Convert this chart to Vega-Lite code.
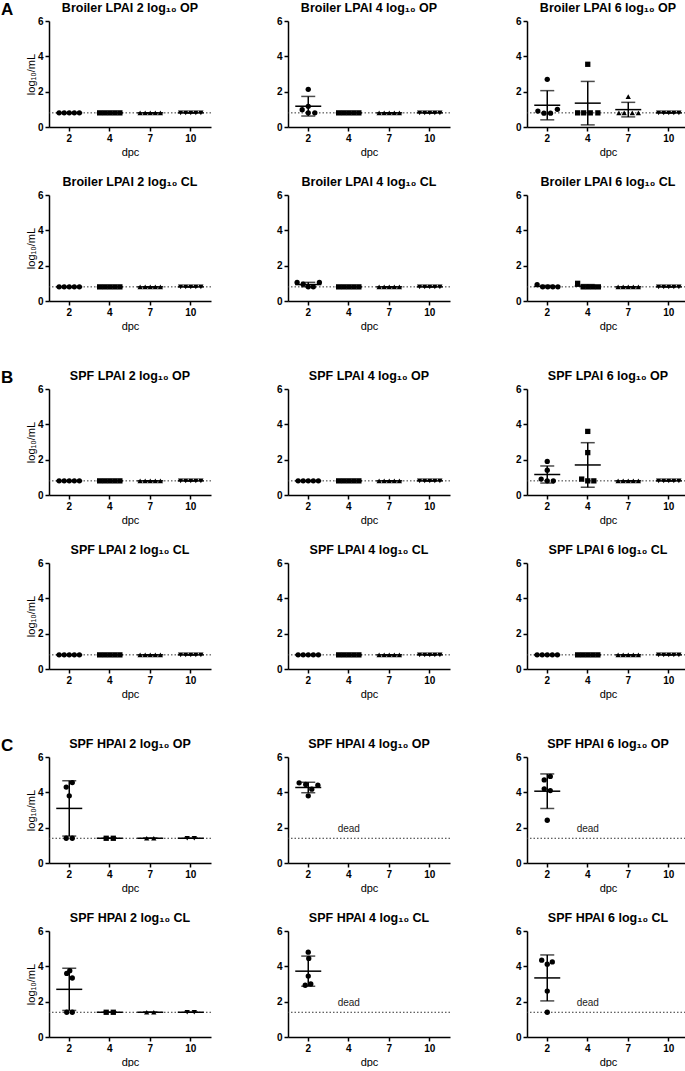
{
"$schema": "https://vega.github.io/schema/vega-lite/v6.json",
"padding": {"left": 0, "top": 0, "right": 0, "bottom": 0},
"config": {
 "view": {"stroke": null},
 "font": "Liberation Sans",
 "axis": {"grid": false, "domainColor": "black", "domainWidth": 1.5, "tickColor": "black", "tickWidth": 1.5, "tickSize": 4, "labelFont": "Liberation Sans", "labelFontWeight": "bold", "labelFontSize": 10, "labelColor": "black", "labelPadding": 2, "labelOverlap": false, "titleFont": "Liberation Sans", "titleFontWeight": "normal", "titleFontSize": 11, "titleColor": "#000000", "titlePadding": 3},
 "axisY": {"titlePadding": 1, "labelFlush": false},
 "header": {"labelFont": "Liberation Sans", "labelFontSize": 12.5, "labelFontWeight": "bold", "labelColor": "black", "labelPadding": 2},
 "title": {"font": "Liberation Sans", "fontSize": 17, "fontWeight": "bold", "color": "black"}
},
"datasets": {
"panels": [
 {"p":1,"g":"A","c":1,"t":"Broiler LPAI 2 log₁₀ OP","lod":0.8,"dead":false},
 {"p":2,"g":"A","c":2,"t":"Broiler LPAI 4 log₁₀ OP","lod":0.8,"dead":false},
 {"p":3,"g":"A","c":3,"t":"Broiler LPAI 6 log₁₀ OP","lod":0.8,"dead":false},
 {"p":4,"g":"A","c":1,"t":"Broiler LPAI 2 log₁₀ CL","lod":0.8,"dead":false},
 {"p":5,"g":"A","c":2,"t":"Broiler LPAI 4 log₁₀ CL","lod":0.8,"dead":false},
 {"p":6,"g":"A","c":3,"t":"Broiler LPAI 6 log₁₀ CL","lod":0.8,"dead":false},
 {"p":7,"g":"B","c":1,"t":"SPF LPAI 2 log₁₀ OP","lod":0.8,"dead":false},
 {"p":8,"g":"B","c":2,"t":"SPF LPAI 4 log₁₀ OP","lod":0.8,"dead":false},
 {"p":9,"g":"B","c":3,"t":"SPF LPAI 6 log₁₀ OP","lod":0.8,"dead":false},
 {"p":10,"g":"B","c":1,"t":"SPF LPAI 2 log₁₀ CL","lod":0.8,"dead":false},
 {"p":11,"g":"B","c":2,"t":"SPF LPAI 4 log₁₀ CL","lod":0.8,"dead":false},
 {"p":12,"g":"B","c":3,"t":"SPF LPAI 6 log₁₀ CL","lod":0.8,"dead":false},
 {"p":13,"g":"C","c":1,"t":"SPF HPAI 2 log₁₀ OP","lod":1.4,"dead":false},
 {"p":14,"g":"C","c":2,"t":"SPF HPAI 4 log₁₀ OP","lod":1.4,"dead":true},
 {"p":15,"g":"C","c":3,"t":"SPF HPAI 6 log₁₀ OP","lod":1.4,"dead":true},
 {"p":16,"g":"C","c":1,"t":"SPF HPAI 2 log₁₀ CL","lod":1.4,"dead":false},
 {"p":17,"g":"C","c":2,"t":"SPF HPAI 4 log₁₀ CL","lod":1.4,"dead":true},
 {"p":18,"g":"C","c":3,"t":"SPF HPAI 6 log₁₀ CL","lod":1.4,"dead":true}
],
"pts": [
 {"p":1,"x":"2","j":-2,"v":0.8},{"p":1,"x":"2","j":-1,"v":0.8},{"p":1,"x":"2","j":0,"v":0.8},{"p":1,"x":"2","j":1,"v":0.8},{"p":1,"x":"2","j":2,"v":0.8},
 {"p":1,"x":"4","j":-2,"v":0.8},{"p":1,"x":"4","j":-1,"v":0.8},{"p":1,"x":"4","j":0,"v":0.8},{"p":1,"x":"4","j":1,"v":0.8},{"p":1,"x":"4","j":2,"v":0.8},
 {"p":1,"x":"7","j":-2,"v":0.8},{"p":1,"x":"7","j":-1,"v":0.8},{"p":1,"x":"7","j":0,"v":0.8},{"p":1,"x":"7","j":1,"v":0.8},{"p":1,"x":"7","j":2,"v":0.8},
 {"p":1,"x":"10","j":-2,"v":0.8},{"p":1,"x":"10","j":-1,"v":0.8},{"p":1,"x":"10","j":0,"v":0.8},{"p":1,"x":"10","j":1,"v":0.8},{"p":1,"x":"10","j":2,"v":0.8},

 {"p":2,"x":"2","j":0,"v":2.13},{"p":2,"x":"2","j":0,"v":1.17},{"p":2,"x":"2","j":-1.2,"v":0.98},{"p":2,"x":"2","j":0,"v":0.8},{"p":2,"x":"2","j":1.3,"v":0.8},
 {"p":2,"x":"4","j":-2,"v":0.8},{"p":2,"x":"4","j":-1,"v":0.8},{"p":2,"x":"4","j":0,"v":0.8},{"p":2,"x":"4","j":1,"v":0.8},{"p":2,"x":"4","j":2,"v":0.8},
 {"p":2,"x":"7","j":-2,"v":0.8},{"p":2,"x":"7","j":-1,"v":0.8},{"p":2,"x":"7","j":0,"v":0.8},{"p":2,"x":"7","j":1,"v":0.8},{"p":2,"x":"7","j":2,"v":0.8},
 {"p":2,"x":"10","j":-2,"v":0.8},{"p":2,"x":"10","j":-1,"v":0.8},{"p":2,"x":"10","j":0,"v":0.8},{"p":2,"x":"10","j":1,"v":0.8},{"p":2,"x":"10","j":2,"v":0.8},

 {"p":3,"x":"2","j":0,"v":2.7},{"p":3,"x":"2","j":-1.85,"v":0.9},{"p":3,"x":"2","j":-0.65,"v":0.78},{"p":3,"x":"2","j":0.65,"v":0.78},{"p":3,"x":"2","j":2,"v":1.0},
 {"p":3,"x":"4","j":0,"v":3.55},{"p":3,"x":"4","j":-2,"v":0.8},{"p":3,"x":"4","j":-0.8,"v":0.8},{"p":3,"x":"4","j":0.5,"v":0.8},{"p":3,"x":"4","j":2,"v":0.8},
 {"p":3,"x":"7","j":0,"v":1.72},{"p":3,"x":"7","j":-1.85,"v":0.8},{"p":3,"x":"7","j":-0.8,"v":0.8},{"p":3,"x":"7","j":0.8,"v":0.8},{"p":3,"x":"7","j":2,"v":0.8},
 {"p":3,"x":"10","j":-2,"v":0.8},{"p":3,"x":"10","j":-1,"v":0.8},{"p":3,"x":"10","j":0,"v":0.8},{"p":3,"x":"10","j":1,"v":0.8},{"p":3,"x":"10","j":2,"v":0.8},

 {"p":4,"x":"2","j":-2,"v":0.8},{"p":4,"x":"2","j":-1,"v":0.8},{"p":4,"x":"2","j":0,"v":0.8},{"p":4,"x":"2","j":1,"v":0.8},{"p":4,"x":"2","j":2,"v":0.8},
 {"p":4,"x":"4","j":-2,"v":0.8},{"p":4,"x":"4","j":-1,"v":0.8},{"p":4,"x":"4","j":0,"v":0.8},{"p":4,"x":"4","j":1,"v":0.8},{"p":4,"x":"4","j":2,"v":0.8},
 {"p":4,"x":"7","j":-2,"v":0.8},{"p":4,"x":"7","j":-1,"v":0.8},{"p":4,"x":"7","j":0,"v":0.8},{"p":4,"x":"7","j":1,"v":0.8},{"p":4,"x":"7","j":2,"v":0.8},
 {"p":4,"x":"10","j":-2,"v":0.8},{"p":4,"x":"10","j":-1,"v":0.8},{"p":4,"x":"10","j":0,"v":0.8},{"p":4,"x":"10","j":1,"v":0.8},{"p":4,"x":"10","j":2,"v":0.8},

 {"p":5,"x":"2","j":-2.2,"v":1.05},{"p":5,"x":"2","j":-1,"v":0.95},{"p":5,"x":"2","j":0,"v":0.8},{"p":5,"x":"2","j":1,"v":0.8},{"p":5,"x":"2","j":2.2,"v":1.05},
 {"p":5,"x":"4","j":-2,"v":0.8},{"p":5,"x":"4","j":-1,"v":0.8},{"p":5,"x":"4","j":0,"v":0.8},{"p":5,"x":"4","j":1,"v":0.8},{"p":5,"x":"4","j":2,"v":0.8},
 {"p":5,"x":"7","j":-2,"v":0.8},{"p":5,"x":"7","j":-1,"v":0.8},{"p":5,"x":"7","j":0,"v":0.8},{"p":5,"x":"7","j":1,"v":0.8},{"p":5,"x":"7","j":2,"v":0.8},
 {"p":5,"x":"10","j":-2,"v":0.8},{"p":5,"x":"10","j":-1,"v":0.8},{"p":5,"x":"10","j":0,"v":0.8},{"p":5,"x":"10","j":1,"v":0.8},{"p":5,"x":"10","j":2,"v":0.8},

 {"p":6,"x":"2","j":-2,"v":0.93},{"p":6,"x":"2","j":-0.9,"v":0.8},{"p":6,"x":"2","j":0.1,"v":0.8},{"p":6,"x":"2","j":1.1,"v":0.8},{"p":6,"x":"2","j":2.1,"v":0.8},
 {"p":6,"x":"4","j":-2,"v":1.0},{"p":6,"x":"4","j":-0.9,"v":0.8},{"p":6,"x":"4","j":0.1,"v":0.8},{"p":6,"x":"4","j":1.1,"v":0.8},{"p":6,"x":"4","j":2.1,"v":0.8},
 {"p":6,"x":"7","j":-2,"v":0.8},{"p":6,"x":"7","j":-1,"v":0.8},{"p":6,"x":"7","j":0,"v":0.8},{"p":6,"x":"7","j":1,"v":0.8},{"p":6,"x":"7","j":2,"v":0.8},
 {"p":6,"x":"10","j":-2,"v":0.8},{"p":6,"x":"10","j":-1,"v":0.8},{"p":6,"x":"10","j":0,"v":0.8},{"p":6,"x":"10","j":1,"v":0.8},{"p":6,"x":"10","j":2,"v":0.8},

 {"p":7,"x":"2","j":-2,"v":0.8},{"p":7,"x":"2","j":-1,"v":0.8},{"p":7,"x":"2","j":0,"v":0.8},{"p":7,"x":"2","j":1,"v":0.8},{"p":7,"x":"2","j":2,"v":0.8},
 {"p":7,"x":"4","j":-2,"v":0.8},{"p":7,"x":"4","j":-1,"v":0.8},{"p":7,"x":"4","j":0,"v":0.8},{"p":7,"x":"4","j":1,"v":0.8},{"p":7,"x":"4","j":2,"v":0.8},
 {"p":7,"x":"7","j":-2,"v":0.8},{"p":7,"x":"7","j":-1,"v":0.8},{"p":7,"x":"7","j":0,"v":0.8},{"p":7,"x":"7","j":1,"v":0.8},{"p":7,"x":"7","j":2,"v":0.8},
 {"p":7,"x":"10","j":-2,"v":0.8},{"p":7,"x":"10","j":-1,"v":0.8},{"p":7,"x":"10","j":0,"v":0.8},{"p":7,"x":"10","j":1,"v":0.8},{"p":7,"x":"10","j":2,"v":0.8},

 {"p":8,"x":"2","j":-2,"v":0.8},{"p":8,"x":"2","j":-1,"v":0.8},{"p":8,"x":"2","j":0,"v":0.8},{"p":8,"x":"2","j":1,"v":0.8},{"p":8,"x":"2","j":2,"v":0.8},
 {"p":8,"x":"4","j":-2,"v":0.8},{"p":8,"x":"4","j":-1,"v":0.8},{"p":8,"x":"4","j":0,"v":0.8},{"p":8,"x":"4","j":1,"v":0.8},{"p":8,"x":"4","j":2,"v":0.8},
 {"p":8,"x":"7","j":-2,"v":0.8},{"p":8,"x":"7","j":-1,"v":0.8},{"p":8,"x":"7","j":0,"v":0.8},{"p":8,"x":"7","j":1,"v":0.8},{"p":8,"x":"7","j":2,"v":0.8},
 {"p":8,"x":"10","j":-2,"v":0.8},{"p":8,"x":"10","j":-1,"v":0.8},{"p":8,"x":"10","j":0,"v":0.8},{"p":8,"x":"10","j":1,"v":0.8},{"p":8,"x":"10","j":2,"v":0.8},

 {"p":9,"x":"2","j":0,"v":1.9},{"p":9,"x":"2","j":0,"v":1.4},{"p":9,"x":"2","j":-1.2,"v":0.9},{"p":9,"x":"2","j":0,"v":0.8},{"p":9,"x":"2","j":1.2,"v":0.8},
 {"p":9,"x":"4","j":0,"v":3.6},{"p":9,"x":"4","j":0,"v":2.4},{"p":9,"x":"4","j":-1.2,"v":0.9},{"p":9,"x":"4","j":0,"v":0.8},{"p":9,"x":"4","j":1.2,"v":0.8},
 {"p":9,"x":"7","j":-2,"v":0.8},{"p":9,"x":"7","j":-1,"v":0.8},{"p":9,"x":"7","j":0,"v":0.8},{"p":9,"x":"7","j":1,"v":0.8},{"p":9,"x":"7","j":2,"v":0.8},
 {"p":9,"x":"10","j":-2,"v":0.8},{"p":9,"x":"10","j":-1,"v":0.8},{"p":9,"x":"10","j":0,"v":0.8},{"p":9,"x":"10","j":1,"v":0.8},{"p":9,"x":"10","j":2,"v":0.8},

 {"p":10,"x":"2","j":-2,"v":0.8},{"p":10,"x":"2","j":-1,"v":0.8},{"p":10,"x":"2","j":0,"v":0.8},{"p":10,"x":"2","j":1,"v":0.8},{"p":10,"x":"2","j":2,"v":0.8},
 {"p":10,"x":"4","j":-2,"v":0.8},{"p":10,"x":"4","j":-1,"v":0.8},{"p":10,"x":"4","j":0,"v":0.8},{"p":10,"x":"4","j":1,"v":0.8},{"p":10,"x":"4","j":2,"v":0.8},
 {"p":10,"x":"7","j":-2,"v":0.8},{"p":10,"x":"7","j":-1,"v":0.8},{"p":10,"x":"7","j":0,"v":0.8},{"p":10,"x":"7","j":1,"v":0.8},{"p":10,"x":"7","j":2,"v":0.8},
 {"p":10,"x":"10","j":-2,"v":0.8},{"p":10,"x":"10","j":-1,"v":0.8},{"p":10,"x":"10","j":0,"v":0.8},{"p":10,"x":"10","j":1,"v":0.8},{"p":10,"x":"10","j":2,"v":0.8},

 {"p":11,"x":"2","j":-2,"v":0.8},{"p":11,"x":"2","j":-1,"v":0.8},{"p":11,"x":"2","j":0,"v":0.8},{"p":11,"x":"2","j":1,"v":0.8},{"p":11,"x":"2","j":2,"v":0.8},
 {"p":11,"x":"4","j":-2,"v":0.8},{"p":11,"x":"4","j":-1,"v":0.8},{"p":11,"x":"4","j":0,"v":0.8},{"p":11,"x":"4","j":1,"v":0.8},{"p":11,"x":"4","j":2,"v":0.8},
 {"p":11,"x":"7","j":-2,"v":0.8},{"p":11,"x":"7","j":-1,"v":0.8},{"p":11,"x":"7","j":0,"v":0.8},{"p":11,"x":"7","j":1,"v":0.8},{"p":11,"x":"7","j":2,"v":0.8},
 {"p":11,"x":"10","j":-2,"v":0.8},{"p":11,"x":"10","j":-1,"v":0.8},{"p":11,"x":"10","j":0,"v":0.8},{"p":11,"x":"10","j":1,"v":0.8},{"p":11,"x":"10","j":2,"v":0.8},

 {"p":12,"x":"2","j":-2,"v":0.8},{"p":12,"x":"2","j":-1,"v":0.8},{"p":12,"x":"2","j":0,"v":0.8},{"p":12,"x":"2","j":1,"v":0.8},{"p":12,"x":"2","j":2,"v":0.8},
 {"p":12,"x":"4","j":-2,"v":0.8},{"p":12,"x":"4","j":-1,"v":0.8},{"p":12,"x":"4","j":0,"v":0.8},{"p":12,"x":"4","j":1,"v":0.8},{"p":12,"x":"4","j":2,"v":0.8},
 {"p":12,"x":"7","j":-2,"v":0.8},{"p":12,"x":"7","j":-1,"v":0.8},{"p":12,"x":"7","j":0,"v":0.8},{"p":12,"x":"7","j":1,"v":0.8},{"p":12,"x":"7","j":2,"v":0.8},
 {"p":12,"x":"10","j":-2,"v":0.8},{"p":12,"x":"10","j":-1,"v":0.8},{"p":12,"x":"10","j":0,"v":0.8},{"p":12,"x":"10","j":1,"v":0.8},{"p":12,"x":"10","j":2,"v":0.8},

 {"p":13,"x":"2","j":-0.6,"v":4.3},{"p":13,"x":"2","j":0.6,"v":4.55},{"p":13,"x":"2","j":0,"v":3.8},{"p":13,"x":"2","j":-0.6,"v":1.4},{"p":13,"x":"2","j":0.6,"v":1.4},
 {"p":13,"x":"4","j":-0.7,"v":1.4},{"p":13,"x":"4","j":0.7,"v":1.4},
 {"p":13,"x":"7","j":-0.7,"v":1.4},{"p":13,"x":"7","j":0.7,"v":1.4},
 {"p":13,"x":"10","j":-0.7,"v":1.4},{"p":13,"x":"10","j":0.7,"v":1.4},

 {"p":14,"x":"2","j":-1.8,"v":4.54},{"p":14,"x":"2","j":-0.5,"v":4.45},{"p":14,"x":"2","j":1.9,"v":4.4},{"p":14,"x":"2","j":0.7,"v":4.18},{"p":14,"x":"2","j":0,"v":3.8},

 {"p":15,"x":"2","j":0.6,"v":4.9},{"p":15,"x":"2","j":-0.6,"v":4.7},{"p":15,"x":"2","j":-0.6,"v":4.2},{"p":15,"x":"2","j":0.6,"v":4.1},{"p":15,"x":"2","j":0,"v":2.42},

 {"p":16,"x":"2","j":-0.5,"v":3.6},{"p":16,"x":"2","j":0.1,"v":3.75},{"p":16,"x":"2","j":0.6,"v":3.34},{"p":16,"x":"2","j":-0.5,"v":1.4},{"p":16,"x":"2","j":0.6,"v":1.4},
 {"p":16,"x":"4","j":-0.7,"v":1.4},{"p":16,"x":"4","j":0.7,"v":1.4},
 {"p":16,"x":"7","j":-0.7,"v":1.4},{"p":16,"x":"7","j":0.7,"v":1.4},
 {"p":16,"x":"10","j":-0.7,"v":1.4},{"p":16,"x":"10","j":0.7,"v":1.4},

 {"p":17,"x":"2","j":0,"v":4.8},{"p":17,"x":"2","j":0.1,"v":4.45},{"p":17,"x":"2","j":0,"v":3.45},{"p":17,"x":"2","j":-0.6,"v":2.93},{"p":17,"x":"2","j":0.5,"v":3.0},

 {"p":18,"x":"2","j":-1.1,"v":4.35},{"p":18,"x":"2","j":1.0,"v":4.25},{"p":18,"x":"2","j":0,"v":4.12},{"p":18,"x":"2","j":0,"v":2.6},{"p":18,"x":"2","j":0,"v":1.4}
]
},
"spacing": 37,
"vconcat": [
 {"title": {"text": "A", "orient": "left", "anchor": "end", "angle": 0, "offset": 0},
  "spacing": 64,
  "hconcat": [
   {"data": {"name": "pts"}, "transform": [{"lookup": "p", "from": {"data": {"name": "panels"}, "key": "p", "fields": ["g","c","t","lod","dead"]}}, {"filter": "datum.g == 'A' && datum.c == 1"}],
    "facet": {"field": "t", "type": "nominal", "sort": {"field": "p", "op": "min"}, "title": null}, "columns": 1, "spacing": 18,
    "resolve": {"axis": {"x": "independent", "y": "independent"}},
    "spec": {"width": 162, "height": 106, "layer": [
     {"mark": {"type": "rule", "strokeDash": [1.5, 2], "color": "#333", "strokeWidth": 1}, "encoding": {"y": {"field": "lod", "aggregate": "max", "type": "quantitative", "scale": {"domain": [0, 6], "nice": false}, "axis": {"values": [0, 2, 4, 6]}, "title": "log₁₀/mL"}}},
     {"mark": {"type": "errorbar", "extent": "stdev", "ticks": true, "size": 14, "thickness": 1.5, "color": "black"}, "encoding": {"x": {"field": "x", "type": "nominal", "scale": {"domain": ["2","4","7","10"], "paddingInner": 0, "paddingOuter": 0}, "axis": {"labelAngle": 0}, "title": "dpc"}, "y": {"field": "v", "type": "quantitative", "scale": {"domain": [0, 6], "nice": false}, "axis": {"values": [0, 2, 4, 6]}, "title": "log₁₀/mL"}}},
     {"mark": {"type": "tick", "size": 26, "thickness": 1.5, "color": "black"}, "encoding": {"x": {"field": "x", "type": "nominal", "title": "dpc"}, "y": {"field": "v", "aggregate": "mean", "type": "quantitative", "axis": {"values": [0, 2, 4, 6]}, "title": "log₁₀/mL"}}},
     {"mark": {"type": "point", "filled": true, "size": 28, "opacity": 1, "color": "black"}, "encoding": {"x": {"field": "x", "type": "nominal", "title": "dpc"}, "xOffset": {"field": "j", "type": "quantitative", "scale": {"domain": [-4, 4], "range": [0, 40.5]}}, "y": {"field": "v", "type": "quantitative", "axis": {"values": [0, 2, 4, 6]}, "title": "log₁₀/mL"}, "shape": {"field": "x", "type": "nominal", "scale": {"domain": ["2","4","7","10"], "range": ["circle","square","triangle-up","triangle-down"]}, "legend": null}}},
     {"transform": [{"filter": "datum.dead"}, {"aggregate": [{"op": "count", "as": "n"}], "groupby": ["t", "p"]}], "mark": {"type": "text", "fontSize": 10, "color": "#222", "font": "Liberation Sans"}, "encoding": {"x": {"datum": "4", "type": "nominal", "title": "dpc"}, "y": {"datum": 1.9, "type": "quantitative", "axis": {"values": [0, 2, 4, 6]}, "title": "log₁₀/mL"}, "text": {"value": "dead"}}}
    ]}
   },
   {"data": {"name": "pts"}, "transform": [{"lookup": "p", "from": {"data": {"name": "panels"}, "key": "p", "fields": ["g","c","t","lod","dead"]}}, {"filter": "datum.g == 'A' && datum.c == 2"}],
    "facet": {"field": "t", "type": "nominal", "sort": {"field": "p", "op": "min"}, "title": null}, "columns": 1, "spacing": 18,
    "resolve": {"axis": {"x": "independent", "y": "independent"}},
    "spec": {"width": 162, "height": 106, "layer": [
     {"mark": {"type": "rule", "strokeDash": [1.5, 2], "color": "#333", "strokeWidth": 1}, "encoding": {"y": {"field": "lod", "aggregate": "max", "type": "quantitative", "scale": {"domain": [0, 6], "nice": false}, "axis": {"values": [0, 2, 4, 6]}, "title": null}}},
     {"mark": {"type": "errorbar", "extent": "stdev", "ticks": true, "size": 14, "thickness": 1.5, "color": "black"}, "encoding": {"x": {"field": "x", "type": "nominal", "scale": {"domain": ["2","4","7","10"], "paddingInner": 0, "paddingOuter": 0}, "axis": {"labelAngle": 0}, "title": "dpc"}, "y": {"field": "v", "type": "quantitative", "scale": {"domain": [0, 6], "nice": false}, "axis": {"values": [0, 2, 4, 6]}, "title": null}}},
     {"mark": {"type": "tick", "size": 26, "thickness": 1.5, "color": "black"}, "encoding": {"x": {"field": "x", "type": "nominal", "title": "dpc"}, "y": {"field": "v", "aggregate": "mean", "type": "quantitative", "axis": {"values": [0, 2, 4, 6]}, "title": null}}},
     {"mark": {"type": "point", "filled": true, "size": 28, "opacity": 1, "color": "black"}, "encoding": {"x": {"field": "x", "type": "nominal", "title": "dpc"}, "xOffset": {"field": "j", "type": "quantitative", "scale": {"domain": [-4, 4], "range": [0, 40.5]}}, "y": {"field": "v", "type": "quantitative", "axis": {"values": [0, 2, 4, 6]}, "title": null}, "shape": {"field": "x", "type": "nominal", "scale": {"domain": ["2","4","7","10"], "range": ["circle","square","triangle-up","triangle-down"]}, "legend": null}}},
     {"transform": [{"filter": "datum.dead"}, {"aggregate": [{"op": "count", "as": "n"}], "groupby": ["t", "p"]}], "mark": {"type": "text", "fontSize": 10, "color": "#222", "font": "Liberation Sans"}, "encoding": {"x": {"datum": "4", "type": "nominal", "title": "dpc"}, "y": {"datum": 1.9, "type": "quantitative", "axis": {"values": [0, 2, 4, 6]}, "title": null}, "text": {"value": "dead"}}}
    ]}
   },
   {"data": {"name": "pts"}, "transform": [{"lookup": "p", "from": {"data": {"name": "panels"}, "key": "p", "fields": ["g","c","t","lod","dead"]}}, {"filter": "datum.g == 'A' && datum.c == 3"}],
    "facet": {"field": "t", "type": "nominal", "sort": {"field": "p", "op": "min"}, "title": null}, "columns": 1, "spacing": 18,
    "resolve": {"axis": {"x": "independent", "y": "independent"}},
    "spec": {"width": 162, "height": 106, "layer": [
     {"mark": {"type": "rule", "strokeDash": [1.5, 2], "color": "#333", "strokeWidth": 1}, "encoding": {"y": {"field": "lod", "aggregate": "max", "type": "quantitative", "scale": {"domain": [0, 6], "nice": false}, "axis": {"values": [0, 2, 4, 6]}, "title": null}}},
     {"mark": {"type": "errorbar", "extent": "stdev", "ticks": true, "size": 14, "thickness": 1.5, "color": "black"}, "encoding": {"x": {"field": "x", "type": "nominal", "scale": {"domain": ["2","4","7","10"], "paddingInner": 0, "paddingOuter": 0}, "axis": {"labelAngle": 0}, "title": "dpc"}, "y": {"field": "v", "type": "quantitative", "scale": {"domain": [0, 6], "nice": false}, "axis": {"values": [0, 2, 4, 6]}, "title": null}}},
     {"mark": {"type": "tick", "size": 26, "thickness": 1.5, "color": "black"}, "encoding": {"x": {"field": "x", "type": "nominal", "title": "dpc"}, "y": {"field": "v", "aggregate": "mean", "type": "quantitative", "axis": {"values": [0, 2, 4, 6]}, "title": null}}},
     {"mark": {"type": "point", "filled": true, "size": 28, "opacity": 1, "color": "black"}, "encoding": {"x": {"field": "x", "type": "nominal", "title": "dpc"}, "xOffset": {"field": "j", "type": "quantitative", "scale": {"domain": [-4, 4], "range": [0, 40.5]}}, "y": {"field": "v", "type": "quantitative", "axis": {"values": [0, 2, 4, 6]}, "title": null}, "shape": {"field": "x", "type": "nominal", "scale": {"domain": ["2","4","7","10"], "range": ["circle","square","triangle-up","triangle-down"]}, "legend": null}}},
     {"transform": [{"filter": "datum.dead"}, {"aggregate": [{"op": "count", "as": "n"}], "groupby": ["t", "p"]}], "mark": {"type": "text", "fontSize": 10, "color": "#222", "font": "Liberation Sans"}, "encoding": {"x": {"datum": "4", "type": "nominal", "title": "dpc"}, "y": {"datum": 1.9, "type": "quantitative", "axis": {"values": [0, 2, 4, 6]}, "title": null}, "text": {"value": "dead"}}}
    ]}
   }
  ]
 },
 {"title": {"text": "B", "orient": "left", "anchor": "end", "angle": 0, "offset": 0},
  "spacing": 64,
  "hconcat": [
   {"data": {"name": "pts"}, "transform": [{"lookup": "p", "from": {"data": {"name": "panels"}, "key": "p", "fields": ["g","c","t","lod","dead"]}}, {"filter": "datum.g == 'B' && datum.c == 1"}],
    "facet": {"field": "t", "type": "nominal", "sort": {"field": "p", "op": "min"}, "title": null}, "columns": 1, "spacing": 18,
    "resolve": {"axis": {"x": "independent", "y": "independent"}},
    "spec": {"width": 162, "height": 106, "layer": [
     {"mark": {"type": "rule", "strokeDash": [1.5, 2], "color": "#333", "strokeWidth": 1}, "encoding": {"y": {"field": "lod", "aggregate": "max", "type": "quantitative", "scale": {"domain": [0, 6], "nice": false}, "axis": {"values": [0, 2, 4, 6]}, "title": "log₁₀/mL"}}},
     {"mark": {"type": "errorbar", "extent": "stdev", "ticks": true, "size": 14, "thickness": 1.5, "color": "black"}, "encoding": {"x": {"field": "x", "type": "nominal", "scale": {"domain": ["2","4","7","10"], "paddingInner": 0, "paddingOuter": 0}, "axis": {"labelAngle": 0}, "title": "dpc"}, "y": {"field": "v", "type": "quantitative", "scale": {"domain": [0, 6], "nice": false}, "axis": {"values": [0, 2, 4, 6]}, "title": "log₁₀/mL"}}},
     {"mark": {"type": "tick", "size": 26, "thickness": 1.5, "color": "black"}, "encoding": {"x": {"field": "x", "type": "nominal", "title": "dpc"}, "y": {"field": "v", "aggregate": "mean", "type": "quantitative", "axis": {"values": [0, 2, 4, 6]}, "title": "log₁₀/mL"}}},
     {"mark": {"type": "point", "filled": true, "size": 28, "opacity": 1, "color": "black"}, "encoding": {"x": {"field": "x", "type": "nominal", "title": "dpc"}, "xOffset": {"field": "j", "type": "quantitative", "scale": {"domain": [-4, 4], "range": [0, 40.5]}}, "y": {"field": "v", "type": "quantitative", "axis": {"values": [0, 2, 4, 6]}, "title": "log₁₀/mL"}, "shape": {"field": "x", "type": "nominal", "scale": {"domain": ["2","4","7","10"], "range": ["circle","square","triangle-up","triangle-down"]}, "legend": null}}},
     {"transform": [{"filter": "datum.dead"}, {"aggregate": [{"op": "count", "as": "n"}], "groupby": ["t", "p"]}], "mark": {"type": "text", "fontSize": 10, "color": "#222", "font": "Liberation Sans"}, "encoding": {"x": {"datum": "4", "type": "nominal", "title": "dpc"}, "y": {"datum": 1.9, "type": "quantitative", "axis": {"values": [0, 2, 4, 6]}, "title": "log₁₀/mL"}, "text": {"value": "dead"}}}
    ]}
   },
   {"data": {"name": "pts"}, "transform": [{"lookup": "p", "from": {"data": {"name": "panels"}, "key": "p", "fields": ["g","c","t","lod","dead"]}}, {"filter": "datum.g == 'B' && datum.c == 2"}],
    "facet": {"field": "t", "type": "nominal", "sort": {"field": "p", "op": "min"}, "title": null}, "columns": 1, "spacing": 18,
    "resolve": {"axis": {"x": "independent", "y": "independent"}},
    "spec": {"width": 162, "height": 106, "layer": [
     {"mark": {"type": "rule", "strokeDash": [1.5, 2], "color": "#333", "strokeWidth": 1}, "encoding": {"y": {"field": "lod", "aggregate": "max", "type": "quantitative", "scale": {"domain": [0, 6], "nice": false}, "axis": {"values": [0, 2, 4, 6]}, "title": null}}},
     {"mark": {"type": "errorbar", "extent": "stdev", "ticks": true, "size": 14, "thickness": 1.5, "color": "black"}, "encoding": {"x": {"field": "x", "type": "nominal", "scale": {"domain": ["2","4","7","10"], "paddingInner": 0, "paddingOuter": 0}, "axis": {"labelAngle": 0}, "title": "dpc"}, "y": {"field": "v", "type": "quantitative", "scale": {"domain": [0, 6], "nice": false}, "axis": {"values": [0, 2, 4, 6]}, "title": null}}},
     {"mark": {"type": "tick", "size": 26, "thickness": 1.5, "color": "black"}, "encoding": {"x": {"field": "x", "type": "nominal", "title": "dpc"}, "y": {"field": "v", "aggregate": "mean", "type": "quantitative", "axis": {"values": [0, 2, 4, 6]}, "title": null}}},
     {"mark": {"type": "point", "filled": true, "size": 28, "opacity": 1, "color": "black"}, "encoding": {"x": {"field": "x", "type": "nominal", "title": "dpc"}, "xOffset": {"field": "j", "type": "quantitative", "scale": {"domain": [-4, 4], "range": [0, 40.5]}}, "y": {"field": "v", "type": "quantitative", "axis": {"values": [0, 2, 4, 6]}, "title": null}, "shape": {"field": "x", "type": "nominal", "scale": {"domain": ["2","4","7","10"], "range": ["circle","square","triangle-up","triangle-down"]}, "legend": null}}},
     {"transform": [{"filter": "datum.dead"}, {"aggregate": [{"op": "count", "as": "n"}], "groupby": ["t", "p"]}], "mark": {"type": "text", "fontSize": 10, "color": "#222", "font": "Liberation Sans"}, "encoding": {"x": {"datum": "4", "type": "nominal", "title": "dpc"}, "y": {"datum": 1.9, "type": "quantitative", "axis": {"values": [0, 2, 4, 6]}, "title": null}, "text": {"value": "dead"}}}
    ]}
   },
   {"data": {"name": "pts"}, "transform": [{"lookup": "p", "from": {"data": {"name": "panels"}, "key": "p", "fields": ["g","c","t","lod","dead"]}}, {"filter": "datum.g == 'B' && datum.c == 3"}],
    "facet": {"field": "t", "type": "nominal", "sort": {"field": "p", "op": "min"}, "title": null}, "columns": 1, "spacing": 18,
    "resolve": {"axis": {"x": "independent", "y": "independent"}},
    "spec": {"width": 162, "height": 106, "layer": [
     {"mark": {"type": "rule", "strokeDash": [1.5, 2], "color": "#333", "strokeWidth": 1}, "encoding": {"y": {"field": "lod", "aggregate": "max", "type": "quantitative", "scale": {"domain": [0, 6], "nice": false}, "axis": {"values": [0, 2, 4, 6]}, "title": null}}},
     {"mark": {"type": "errorbar", "extent": "stdev", "ticks": true, "size": 14, "thickness": 1.5, "color": "black"}, "encoding": {"x": {"field": "x", "type": "nominal", "scale": {"domain": ["2","4","7","10"], "paddingInner": 0, "paddingOuter": 0}, "axis": {"labelAngle": 0}, "title": "dpc"}, "y": {"field": "v", "type": "quantitative", "scale": {"domain": [0, 6], "nice": false}, "axis": {"values": [0, 2, 4, 6]}, "title": null}}},
     {"mark": {"type": "tick", "size": 26, "thickness": 1.5, "color": "black"}, "encoding": {"x": {"field": "x", "type": "nominal", "title": "dpc"}, "y": {"field": "v", "aggregate": "mean", "type": "quantitative", "axis": {"values": [0, 2, 4, 6]}, "title": null}}},
     {"mark": {"type": "point", "filled": true, "size": 28, "opacity": 1, "color": "black"}, "encoding": {"x": {"field": "x", "type": "nominal", "title": "dpc"}, "xOffset": {"field": "j", "type": "quantitative", "scale": {"domain": [-4, 4], "range": [0, 40.5]}}, "y": {"field": "v", "type": "quantitative", "axis": {"values": [0, 2, 4, 6]}, "title": null}, "shape": {"field": "x", "type": "nominal", "scale": {"domain": ["2","4","7","10"], "range": ["circle","square","triangle-up","triangle-down"]}, "legend": null}}},
     {"transform": [{"filter": "datum.dead"}, {"aggregate": [{"op": "count", "as": "n"}], "groupby": ["t", "p"]}], "mark": {"type": "text", "fontSize": 10, "color": "#222", "font": "Liberation Sans"}, "encoding": {"x": {"datum": "4", "type": "nominal", "title": "dpc"}, "y": {"datum": 1.9, "type": "quantitative", "axis": {"values": [0, 2, 4, 6]}, "title": null}, "text": {"value": "dead"}}}
    ]}
   }
  ]
 },
 {"title": {"text": "C", "orient": "left", "anchor": "end", "angle": 0, "offset": 0},
  "spacing": 64,
  "hconcat": [
   {"data": {"name": "pts"}, "transform": [{"lookup": "p", "from": {"data": {"name": "panels"}, "key": "p", "fields": ["g","c","t","lod","dead"]}}, {"filter": "datum.g == 'C' && datum.c == 1"}],
    "facet": {"field": "t", "type": "nominal", "sort": {"field": "p", "op": "min"}, "title": null}, "columns": 1, "spacing": 18,
    "resolve": {"axis": {"x": "independent", "y": "independent"}},
    "spec": {"width": 162, "height": 106, "layer": [
     {"mark": {"type": "rule", "strokeDash": [1.5, 2], "color": "#333", "strokeWidth": 1}, "encoding": {"y": {"field": "lod", "aggregate": "max", "type": "quantitative", "scale": {"domain": [0, 6], "nice": false}, "axis": {"values": [0, 2, 4, 6]}, "title": "log₁₀/mL"}}},
     {"mark": {"type": "errorbar", "extent": "stdev", "ticks": true, "size": 14, "thickness": 1.5, "color": "black"}, "encoding": {"x": {"field": "x", "type": "nominal", "scale": {"domain": ["2","4","7","10"], "paddingInner": 0, "paddingOuter": 0}, "axis": {"labelAngle": 0}, "title": "dpc"}, "y": {"field": "v", "type": "quantitative", "scale": {"domain": [0, 6], "nice": false}, "axis": {"values": [0, 2, 4, 6]}, "title": "log₁₀/mL"}}},
     {"mark": {"type": "tick", "size": 26, "thickness": 1.5, "color": "black"}, "encoding": {"x": {"field": "x", "type": "nominal", "title": "dpc"}, "y": {"field": "v", "aggregate": "mean", "type": "quantitative", "axis": {"values": [0, 2, 4, 6]}, "title": "log₁₀/mL"}}},
     {"mark": {"type": "point", "filled": true, "size": 28, "opacity": 1, "color": "black"}, "encoding": {"x": {"field": "x", "type": "nominal", "title": "dpc"}, "xOffset": {"field": "j", "type": "quantitative", "scale": {"domain": [-4, 4], "range": [0, 40.5]}}, "y": {"field": "v", "type": "quantitative", "axis": {"values": [0, 2, 4, 6]}, "title": "log₁₀/mL"}, "shape": {"field": "x", "type": "nominal", "scale": {"domain": ["2","4","7","10"], "range": ["circle","square","triangle-up","triangle-down"]}, "legend": null}}},
     {"transform": [{"filter": "datum.dead"}, {"aggregate": [{"op": "count", "as": "n"}], "groupby": ["t", "p"]}], "mark": {"type": "text", "fontSize": 10, "color": "#222", "font": "Liberation Sans"}, "encoding": {"x": {"datum": "4", "type": "nominal", "title": "dpc"}, "y": {"datum": 1.9, "type": "quantitative", "axis": {"values": [0, 2, 4, 6]}, "title": "log₁₀/mL"}, "text": {"value": "dead"}}}
    ]}
   },
   {"data": {"name": "pts"}, "transform": [{"lookup": "p", "from": {"data": {"name": "panels"}, "key": "p", "fields": ["g","c","t","lod","dead"]}}, {"filter": "datum.g == 'C' && datum.c == 2"}],
    "facet": {"field": "t", "type": "nominal", "sort": {"field": "p", "op": "min"}, "title": null}, "columns": 1, "spacing": 18,
    "resolve": {"axis": {"x": "independent", "y": "independent"}},
    "spec": {"width": 162, "height": 106, "layer": [
     {"mark": {"type": "rule", "strokeDash": [1.5, 2], "color": "#333", "strokeWidth": 1}, "encoding": {"y": {"field": "lod", "aggregate": "max", "type": "quantitative", "scale": {"domain": [0, 6], "nice": false}, "axis": {"values": [0, 2, 4, 6]}, "title": null}}},
     {"mark": {"type": "errorbar", "extent": "stdev", "ticks": true, "size": 14, "thickness": 1.5, "color": "black"}, "encoding": {"x": {"field": "x", "type": "nominal", "scale": {"domain": ["2","4","7","10"], "paddingInner": 0, "paddingOuter": 0}, "axis": {"labelAngle": 0}, "title": "dpc"}, "y": {"field": "v", "type": "quantitative", "scale": {"domain": [0, 6], "nice": false}, "axis": {"values": [0, 2, 4, 6]}, "title": null}}},
     {"mark": {"type": "tick", "size": 26, "thickness": 1.5, "color": "black"}, "encoding": {"x": {"field": "x", "type": "nominal", "title": "dpc"}, "y": {"field": "v", "aggregate": "mean", "type": "quantitative", "axis": {"values": [0, 2, 4, 6]}, "title": null}}},
     {"mark": {"type": "point", "filled": true, "size": 28, "opacity": 1, "color": "black"}, "encoding": {"x": {"field": "x", "type": "nominal", "title": "dpc"}, "xOffset": {"field": "j", "type": "quantitative", "scale": {"domain": [-4, 4], "range": [0, 40.5]}}, "y": {"field": "v", "type": "quantitative", "axis": {"values": [0, 2, 4, 6]}, "title": null}, "shape": {"field": "x", "type": "nominal", "scale": {"domain": ["2","4","7","10"], "range": ["circle","square","triangle-up","triangle-down"]}, "legend": null}}},
     {"transform": [{"filter": "datum.dead"}, {"aggregate": [{"op": "count", "as": "n"}], "groupby": ["t", "p"]}], "mark": {"type": "text", "fontSize": 10, "color": "#222", "font": "Liberation Sans"}, "encoding": {"x": {"datum": "4", "type": "nominal", "title": "dpc"}, "y": {"datum": 1.9, "type": "quantitative", "axis": {"values": [0, 2, 4, 6]}, "title": null}, "text": {"value": "dead"}}}
    ]}
   },
   {"data": {"name": "pts"}, "transform": [{"lookup": "p", "from": {"data": {"name": "panels"}, "key": "p", "fields": ["g","c","t","lod","dead"]}}, {"filter": "datum.g == 'C' && datum.c == 3"}],
    "facet": {"field": "t", "type": "nominal", "sort": {"field": "p", "op": "min"}, "title": null}, "columns": 1, "spacing": 18,
    "resolve": {"axis": {"x": "independent", "y": "independent"}},
    "spec": {"width": 162, "height": 106, "layer": [
     {"mark": {"type": "rule", "strokeDash": [1.5, 2], "color": "#333", "strokeWidth": 1}, "encoding": {"y": {"field": "lod", "aggregate": "max", "type": "quantitative", "scale": {"domain": [0, 6], "nice": false}, "axis": {"values": [0, 2, 4, 6]}, "title": null}}},
     {"mark": {"type": "errorbar", "extent": "stdev", "ticks": true, "size": 14, "thickness": 1.5, "color": "black"}, "encoding": {"x": {"field": "x", "type": "nominal", "scale": {"domain": ["2","4","7","10"], "paddingInner": 0, "paddingOuter": 0}, "axis": {"labelAngle": 0}, "title": "dpc"}, "y": {"field": "v", "type": "quantitative", "scale": {"domain": [0, 6], "nice": false}, "axis": {"values": [0, 2, 4, 6]}, "title": null}}},
     {"mark": {"type": "tick", "size": 26, "thickness": 1.5, "color": "black"}, "encoding": {"x": {"field": "x", "type": "nominal", "title": "dpc"}, "y": {"field": "v", "aggregate": "mean", "type": "quantitative", "axis": {"values": [0, 2, 4, 6]}, "title": null}}},
     {"mark": {"type": "point", "filled": true, "size": 28, "opacity": 1, "color": "black"}, "encoding": {"x": {"field": "x", "type": "nominal", "title": "dpc"}, "xOffset": {"field": "j", "type": "quantitative", "scale": {"domain": [-4, 4], "range": [0, 40.5]}}, "y": {"field": "v", "type": "quantitative", "axis": {"values": [0, 2, 4, 6]}, "title": null}, "shape": {"field": "x", "type": "nominal", "scale": {"domain": ["2","4","7","10"], "range": ["circle","square","triangle-up","triangle-down"]}, "legend": null}}},
     {"transform": [{"filter": "datum.dead"}, {"aggregate": [{"op": "count", "as": "n"}], "groupby": ["t", "p"]}], "mark": {"type": "text", "fontSize": 10, "color": "#222", "font": "Liberation Sans"}, "encoding": {"x": {"datum": "4", "type": "nominal", "title": "dpc"}, "y": {"datum": 1.9, "type": "quantitative", "axis": {"values": [0, 2, 4, 6]}, "title": null}, "text": {"value": "dead"}}}
    ]}
   }
  ]
 }
]
}
